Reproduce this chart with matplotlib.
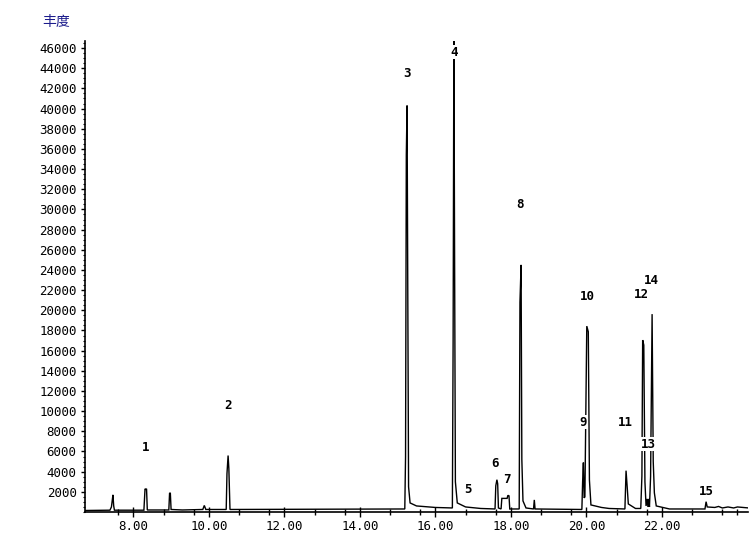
import numpy as np
import matplotlib
matplotlib.use("Agg")
import matplotlib.pyplot as plt
from matplotlib.ticker import MultipleLocator, FixedLocator

# ---- data ----
time_min = [6.72, 7.38, 7.42, 7.44, 7.46, 7.48, 7.50, 8.28, 8.31, 8.33, 8.35, 8.37,
            8.94, 8.96, 8.98, 9.00, 9.30, 9.84, 9.88, 9.92, 10.46, 10.48, 10.51, 10.53, 10.56,
            15.19, 15.21, 15.23, 15.25, 15.27, 15.29, 15.33, 15.50, 16.00,
            16.45, 16.47, 16.49, 16.51, 16.53, 16.58, 16.80, 17.20,
            17.58, 17.60, 17.63, 17.65, 17.67, 17.74, 17.76, 17.90, 17.92, 17.95, 17.97,
            18.22, 18.24, 18.27, 18.29, 18.32, 18.40, 18.60, 18.62, 18.64,
            19.88, 19.90, 19.92, 19.94, 19.96, 20.01, 20.05, 20.08, 20.12, 20.40, 20.60,
            21.02, 21.05, 21.08, 21.11, 21.30, 21.44, 21.47, 21.49, 21.52, 21.55, 21.58,
            21.61, 21.63, 21.65, 21.67, 21.70, 21.74, 21.77, 21.80, 21.85, 22.20,
            23.14, 23.17, 23.20, 23.40, 23.50, 23.60, 23.75, 23.90, 24.00, 24.30]
abundance = [150, 180, 500, 1100, 1700, 600, 180, 180, 2300, 2250, 2300, 200,
             200, 1850, 1900, 250, 200, 250, 650, 250, 250, 3800, 5600, 4300, 250,
             300, 5500, 35400, 40300, 21000, 2500, 900, 600, 450,
             400, 17000, 47500, 24000, 3000, 900, 500, 350,
             300, 2600, 3200, 2800, 400, 300, 1350, 1350, 1650, 1600, 300,
             300, 20800, 24500, 5200, 1100, 400, 300, 1200, 300,
             250, 3000, 4900, 1400, 1500, 18430, 17870, 3170, 700, 450, 350,
             300, 4100, 2500, 800, 350, 350, 3570, 17050, 16550, 3000, 600,
             1300, 500, 1300, 500, 3500, 19620, 5000, 1900, 600, 300,
             300, 1020, 500, 450, 550, 400, 500, 400, 500, 400]

peak_labels = ["1", "2", "3", "4", "5", "6", "7", "8", "9", "10", "11", "12", "13", "14", "15"]
label_time = [8.33, 10.51, 15.24, 16.50, 16.85, 17.58, 17.90, 18.25, 19.90, 20.02, 21.02, 21.45, 21.63, 21.72, 23.18]
label_abund = [6440, 10600, 43500, 45600, 2280, 4760, 3270, 30530, 8920, 21400, 8920, 21550, 6740, 23000, 2080]

x_ticks = [8, 10, 12, 14, 16, 18, 20, 22]
x_tick_labels = ["8.00", "10.00", "12.00", "14.00", "16.00", "18.00", "20.00", "22.00"]
y_ticks = list(range(2000, 46001, 2000))

# ---- figure ----
fig = plt.figure(figsize=(7.56, 5.44), dpi=100)
ax = fig.add_axes([85 / 756, 32 / 544, 663 / 756, 471 / 544])
ax.set_xlim(6.72, 24.28)
ax.set_ylim(0, 46700)

ax.plot(time_min, abundance, color="black", lw=1.0, solid_joinstyle="miter", zorder=2)

for lab, t, a in zip(peak_labels, label_time, label_abund):
    ax.text(t, a, lab, ha="center", va="center", fontsize=9, fontweight="bold",
            family="DejaVu Sans Mono", color="black", zorder=3,
            bbox=dict(boxstyle="square,pad=0.05", fc="white", ec="none"))

for s in ("top", "right"):
    ax.spines[s].set_visible(False)
ax.spines["left"].set_linewidth(1.2)
ax.spines["bottom"].set_linewidth(1.2)

ax.set_xticks(x_ticks)
ax.set_xticklabels(x_tick_labels, family="DejaVu Sans Mono", fontsize=9)
minor_x = [m + k for m in [6, 8, 10, 12, 14, 16, 18, 20, 22] for k in (0.8, 1.6)] + [24.0]
ax.xaxis.set_minor_locator(FixedLocator([v for v in minor_x if 6.8 < v < 24.3]))
ax.tick_params(axis="x", which="major", length=7, width=1, direction="inout", pad=2)
ax.tick_params(axis="x", which="minor", length=4, width=1, direction="inout")

ax.set_yticks(y_ticks)
ax.set_yticklabels([str(v) for v in y_ticks], family="DejaVu Sans Mono", fontsize=9)
ax.yaxis.set_minor_locator(MultipleLocator(500))
ax.tick_params(axis="y", which="major", length=3, width=1, pad=3)
ax.tick_params(axis="y", which="minor", length=1.5, width=0.8)

fig.text(56 / 756, 1 - 22 / 544, "丰度", ha="center", va="center", fontsize=10,
         color="#1c1c8c", family=["Noto Sans CJK SC", "DejaVu Sans"])

fig.savefig("out.png", dpi=100)
